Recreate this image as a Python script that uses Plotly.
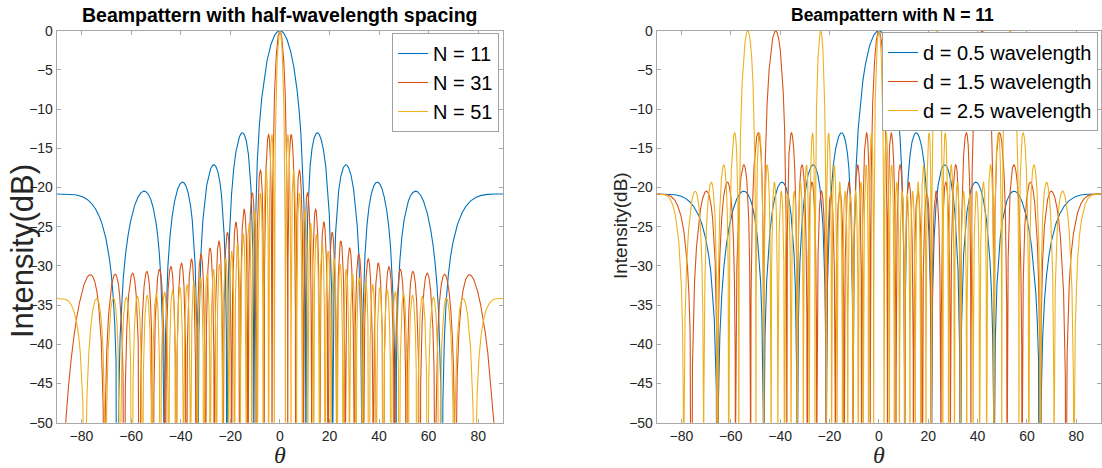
import numpy as np
import plotly.graph_objects as go

# ---- data (array parameters) ----
left_labels = ["N = 11", "N = 31", "N = 51"]
left_elements = [11, 36, 51]          # element counts matching the drawn lobes
left_spacing = [0.5, 0.5, 0.5]        # wavelengths

right_labels = ["d = 0.5 wavelength", "d = 1.5 wavelength", "d = 2.5 wavelength"]
right_elements = [11, 11, 11]
right_spacing = [0.5, 1.5, 2.5]

x_ticks = [-80, -60, -40, -20, 0, 20, 40, 60, 80]
y_ticks = [0, -5, -10, -15, -20, -25, -30, -35, -40, -45, -50]

colors = ["#0072BD", "#D95319", "#EDB120"]

theta = np.linspace(-90, 90, 18001)


def beampattern(n_el, d):
    s = np.sin(np.deg2rad(theta))
    n = np.arange(n_el)[:, None]
    af = np.abs(np.exp(1j * 2 * np.pi * d * n * s[None, :]).sum(axis=0)) / n_el
    return 20 * np.log10(np.maximum(af, 1e-9))


fig = go.Figure()
for lab, ne, d, c in zip(left_labels, left_elements, left_spacing, colors):
    fig.add_trace(go.Scatter(x=theta, y=beampattern(ne, d), mode="lines", name=lab,
                             line=dict(color=c, width=1.1), xaxis="x", yaxis="y",
                             legend="legend"))
for lab, ne, d, c in zip(right_labels, right_elements, right_spacing, colors):
    fig.add_trace(go.Scatter(x=theta, y=beampattern(ne, d), mode="lines", name=lab,
                             line=dict(color=c, width=1.1), xaxis="x2", yaxis="y2",
                             legend="legend2"))

W, H = 1102, 468
axcol = "#a8a8a8"
SANS = "Liberation Sans, Arial, sans-serif"
tickfont = dict(family=SANS, size=14, color="#262626")


def xax(dom, anchor):
    return dict(domain=dom, anchor=anchor, range=[-90, 90], tickvals=x_ticks,
                ticks="inside", ticklen=4, tickcolor=axcol, showline=True, linecolor=axcol,
                linewidth=1, mirror="allticks", showgrid=False, zeroline=False,
                tickfont=tickfont, automargin=False,
                title=dict(text="<i>θ</i>", font=dict(family="Liberation Serif, Times New Roman, serif",
                                                      size=24, color="#262626"), standoff=2))


def yax(dom, anchor):
    return dict(domain=dom, anchor=anchor, range=[-50, 0], tickvals=y_ticks,
                ticks="inside", ticklen=4, tickcolor=axcol, showline=True, linecolor=axcol,
                linewidth=1, mirror="allticks", showgrid=False, zeroline=False,
                tickfont=tickfont, automargin=False)


ydom = [1 - 422.7 / H, 1 - 30.7 / H]

fig.update_layout(
    width=W, height=H, margin=dict(l=0, r=0, t=0, b=0, autoexpand=False),
    paper_bgcolor="white", plot_bgcolor="white",
    xaxis=xax([56.7 / W, 503 / W], "y"),
    yaxis=yax(ydom, "x"),
    xaxis2=xax([656.7 / W, 1101 / W], "y2"),
    yaxis2=yax(ydom, "x2"),
    legend=dict(x=499 / W, y=1 - 33 / H, xanchor="right", yanchor="top",
                font=dict(family=SANS, size=20, color="#000"),
                bgcolor="white", bordercolor="#a0a0a0", borderwidth=1, itemwidth=30,
                tracegroupgap=0),
    legend2=dict(x=1098 / W, y=1 - 32 / H, xanchor="right", yanchor="top",
                 font=dict(family=SANS, size=20, color="#000"),
                 bgcolor="white", bordercolor="#a0a0a0", borderwidth=1, itemwidth=30,
                 tracegroupgap=0),
    annotations=[
        dict(text="<b>Beampattern with half-wavelength spacing</b>", x=(56.7 + 503) / 2 / W,
             y=1 - 15 / H, xref="paper", yref="paper", showarrow=False, xanchor="center",
             yanchor="middle", font=dict(family=SANS, size=19.5, color="#000")),
        dict(text="<b>Beampattern with N = 11</b>", x=892 / W,
             y=1 - 15 / H, xref="paper", yref="paper", showarrow=False, xanchor="center",
             yanchor="middle", font=dict(family=SANS, size=17.5, color="#000")),
        dict(text="Intensity(dB)", x=22 / W, y=1 - 251 / H, xref="paper", yref="paper",
             showarrow=False, textangle=-90, xanchor="center", yanchor="middle",
             font=dict(family=SANS, size=31, color="#262626")),
        dict(text="Intensity(dB)", x=620 / W, y=1 - 226 / H, xref="paper", yref="paper",
             showarrow=False, textangle=-90, xanchor="center", yanchor="middle",
             font=dict(family=SANS, size=19, color="#262626")),
    ],
)

fig.write_html("out.html", config={"displayModeBar": False},
               post_script="document.body.style.margin='0';document.body.style.overflow='hidden';")
